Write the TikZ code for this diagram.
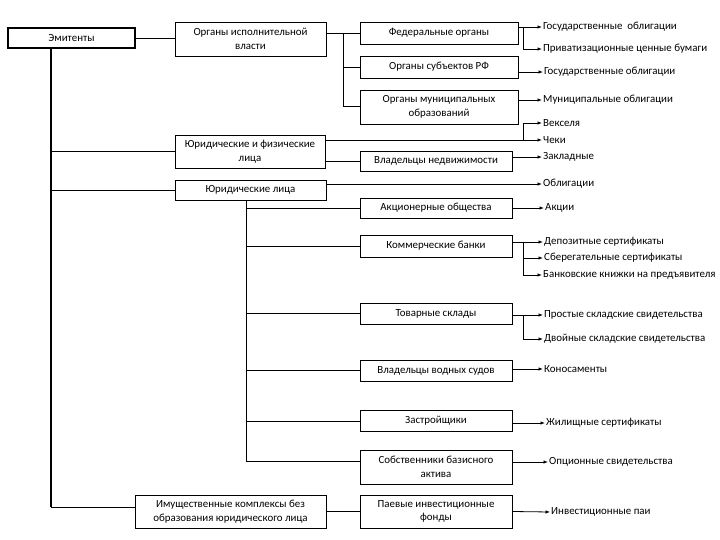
\documentclass[tikz,border=0pt]{standalone}
\usepackage{fontspec}
\setmainfont{Carlito}
\usetikzlibrary{arrows.meta,calc}
\begin{document}
\begin{tikzpicture}[x=1pt,y=-1pt,
  txt/.style={font=\fontsize{10.9}{13.5}\selectfont},
  box/.style={draw,line width=0.8pt,inner sep=1pt,align=center,txt},
  lbl/.style={anchor=west,inner sep=1pt,txt},
  ln/.style={line width=0.8pt},
  thk/.style={line width=1.6pt},
  arr/.style={ln,-{Latex[length=4.5pt,width=3.5pt]}}]
\useasboundingbox[fill=white] (0,0) rectangle (720,540);

% boxes
\node[box,line width=1.6pt,minimum width=127,minimum height=20] (em) at (71.5,38) {Эмитенты};
\node[box,minimum width=151,minimum height=34] (oiv) at (250.5,39) {Органы исполнительной\\власти};
\node[box,minimum width=158,minimum height=22] (fed) at (439,33) {Федеральные органы};
\node[box,minimum width=158,minimum height=22] (sub) at (439,67) {Органы субъектов РФ};
\node[box,minimum width=158,minimum height=34] (mun) at (439,107) {Органы муниципальных\\образований};
\node[box,minimum width=150,minimum height=33] (yf) at (250,151.5) {Юридические и физические\\лица};
\node[box,minimum width=151,minimum height=20] (yl) at (250.5,190) {Юридические лица};
\node[box,minimum width=152,minimum height=20] (ned) at (436,161) {Владельцы недвижимости};
\node[box,minimum width=152,minimum height=20] (ao) at (436,208) {Акционерные общества};
\node[box,minimum width=152,minimum height=22] (bank) at (436,246) {Коммерческие банки};
\node[box,minimum width=152,minimum height=21] (skl) at (436,313.5) {Товарные склады};
\node[box,minimum width=152,minimum height=21] (vod) at (436,370.5) {Владельцы водных судов};
\node[box,minimum width=152,minimum height=21] (zas) at (436,421) {Застройщики};
\node[box,minimum width=152,minimum height=34] (sob) at (436,467) {Собственники базисного\\актива};
\node[box,minimum width=152,minimum height=33] (pif) at (436,511.5) {Паевые инвестиционные\\фонды};
\node[box,minimum width=191,minimum height=33] (imk) at (230.5,511.5) {Имущественные комплексы без\\образования юридического лица};

% labels
\node[lbl] (g1) at (542,27) {Государственные\ \ облигации};
\node[lbl] (g2) at (542,49) {Приватизационные ценные бумаги};
\node[lbl] (g3) at (543,72) {Государственные облигации};
\node[lbl] (g4) at (542,100) {Муниципальные облигации};
\node[lbl] (g5) at (542,123) {Векселя};
\node[lbl] (g6) at (542,140) {Чеки};
\node[lbl] (g7) at (542,157) {Закладные};
\node[lbl] (g8) at (542,184) {Облигации};
\node[lbl] (g9) at (544,208) {Акции};
\node[lbl] (g10) at (543,242) {Депозитные сертификаты};
\node[lbl] (g11) at (543,258) {Сберегательные сертификаты};
\node[lbl] (g12) at (542,275) {Банковские книжки на предъявителя};
\node[lbl] (g13) at (543,315) {Простые складские свидетельства};
\node[lbl] (g14) at (543,339) {Двойные складские свидетельства};
\node[lbl] (g15) at (543,369) {Коносаменты};
\node[lbl] (g16) at (545,423) {Жилищные сертификаты};
\node[lbl] (g17) at (548,462) {Опционные свидетельства};
\node[lbl] (g18) at (550,512) {Инвестиционные паи};

% helper coordinates
\coordinate (v1) at (51,507);
\coordinate (v2) at (343,106);
\coordinate (v3) at (246,461);
\coordinate (s1) at (523,0);

% left trunk
\draw[ln] (em.east) -- (em.east -| oiv.west);
\draw[thk] (em.south -| v1) -- (v1);
\draw[ln] (v1) -- (v1 -| imk.west);
\draw[ln] (yf.west -| v1) -- (yf.west);
\draw[ln] (yl.west -| v1) -- (yl.west);

% executive bodies
\draw[ln] (oiv.east |- fed.west) -- (fed.west);
\draw[ln] (fed.west -| v2) -- (v2) -- (v2 -| mun.west);
\draw[ln] (sub.west -| v2) -- (sub.west);

% second trunk
\draw[ln] (v3 |- yl.south) -- (v3) -- (v3 -| sob.west);
\draw[ln] (ao.west -| v3) -- (ao.west);
\draw[ln] (bank.west -| v3) -- (bank.west);
\draw[ln] (skl.west -| v3) -- (skl.west);
\draw[ln] (vod.west -| v3) -- (vod.west);
\draw[ln] (zas.west -| v3) -- (zas.west);

\draw[ln] (yf.east |- ned.west) -- (ned.west);
\draw[ln] (imk.east) -- (pif.west);

% arrows to securities
\draw[arr] (fed.east |- g1.west) -- (g1.west);
\draw[arr] (s1 |- g1.west) |- (g2.west);
\draw[arr] (sub.east |- g3.west) -- (g3.west);
\draw[arr] (mun.east |- g4.west) -- (g4.west);
\draw[arr] (yf.east |- g6.west) -- (g6.west);
\draw[arr] (s1 |- g6.west) |- (g5.west);
\draw[arr] (ned.east |- g7.west) -- (g7.west);
\draw[arr] (yl.east |- g8.west) -- (g8.west);
\draw[arr] (ao.east) -- (g9.west);
\draw[arr] (bank.east |- g10.west) -- (g10.west);
\draw[arr] (s1 |- g10.west) |- (g12.west);
\draw[arr] (s1 |- g11.west) -- (g11.west);
\draw[arr] (skl.east |- g13.west) -- (g13.west);
\draw[arr] (s1 |- g13.west) |- (g14.west);
\draw[arr] (vod.east |- g15.west) -- (g15.west);
\draw[arr] (zas.east |- g16.west) -- (g16.west);
\draw[arr] (sob.east |- g17.west) -- (g17.west);
\draw[arr] (pif.east) -- (g18.west);
\end{tikzpicture}
\end{document}
